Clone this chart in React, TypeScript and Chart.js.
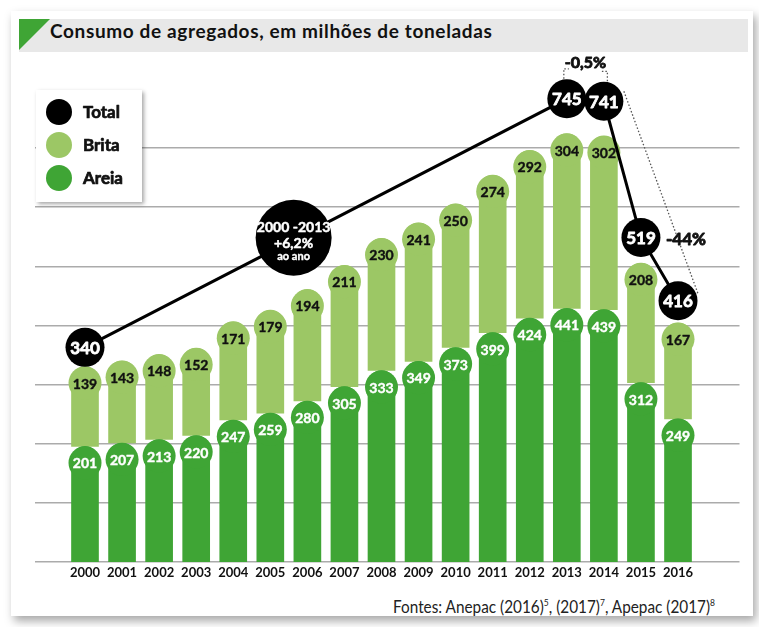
import React, { useEffect, useRef } from 'react';
import { Chart, registerables } from 'chart.js';

Chart.register(...registerables);

// ---------- data ----------
const years = [2000, 2001, 2002, 2003, 2004, 2005, 2006, 2007, 2008, 2009, 2010, 2011, 2012, 2013, 2014, 2015, 2016];
const areia = [201, 207, 213, 220, 247, 259, 280, 305, 333, 349, 373, 399, 424, 441, 439, 312, 249];
const brita = [139, 143, 148, 152, 171, 179, 194, 211, 230, 241, 250, 274, 292, 304, 302, 208, 167];
const totalYears = [2000, 2013, 2014, 2015, 2016];
const totalValues = [340, 745, 741, 519, 416];
const gridValues = [0, 100, 200, 300, 400, 500, 600, 700];
const seriesNames = ['Total', 'Brita', 'Areia'];
const titleText = 'Consumo de agregados, em milhões de toneladas';
const cagrLines = ['2000 -2013', '+6,2%', 'ao ano'];
const change1314 = '-0,5%';
const change1416 = '-44%';

// ---------- style ----------
const FONT = 'Lato, "Noto Sans", sans-serif';
const DARK = '#3fa535';
const LIGHT = '#9cc765';
const BLACK = '#000000';

const drawCircle = (ctx: CanvasRenderingContext2D, x: number, y: number, r: number, color: string) => {
  ctx.beginPath();
  ctx.arc(x, y, r, 0, Math.PI * 2);
  ctx.fillStyle = color;
  ctx.fill();
};

const drawText = (
  ctx: CanvasRenderingContext2D,
  t: string,
  x: number,
  y: number,
  size: number,
  color: string,
  align: CanvasTextAlign = 'center',
  heavy: number = 0.5
) => {
  ctx.font = `bold ${size}px ${FONT}`;
  ctx.fillStyle = color;
  ctx.textAlign = align;
  ctx.textBaseline = 'middle';
  ctx.fillText(t, x, y);
  if (heavy > 0) {
    ctx.strokeStyle = color;
    ctx.lineWidth = heavy;
    ctx.lineJoin = 'round';
    ctx.strokeText(t, x, y);
  }
};

const annotPlugin = {
  id: 'annot',
  beforeDatasetDraw(chart: any, args: any) {
    if (args.index !== 2) return;
    const ctx = chart.ctx as CanvasRenderingContext2D;
    ctx.save();
    [0, 1].forEach((di) => {
      const meta = chart.getDatasetMeta(di);
      const ds = chart.data.datasets[di];
      meta.data.forEach((el: any, j: number) => {
        const cx = el.x;
        const cy = el.y + 16.5;
        drawCircle(ctx, cx, cy, 16.5, ds.backgroundColor);
        drawText(ctx, String(ds.data[j].y), cx, cy + 1, 14, di === 0 ? '#ffffff' : '#111111', 'center', 0.4);
      });
    });
    ctx.restore();
  },
  afterDatasetDraw(chart: any, args: any) {
    if (args.index !== 2) return;
    const ctx = chart.ctx as CanvasRenderingContext2D;
    ctx.save();
    args.meta.data.forEach((el: any, j: number) => {
      drawText(ctx, String(totalValues[j]), el.x, el.y + 1, 17, '#ffffff', 'center', 0.8);
    });
    ctx.restore();
  },
  afterDatasetsDraw(chart: any) {
    const ctx = chart.ctx as CanvasRenderingContext2D;
    const pts = chart.getDatasetMeta(2).data;
    const p0 = pts[0], p1 = pts[1], p2 = pts[2], p3 = pts[3], p4 = pts[4];
    ctx.save();

    // big CAGR circle on the 2000-2013 line
    const t = 0.433;
    const bx = p0.x + t * (p1.x - p0.x);
    const by = p0.y + t * (p1.y - p0.y) - 2;
    drawCircle(ctx, bx, by, 38, BLACK);
    drawText(ctx, cagrLines[0], bx, by - 10, 14, '#ffffff', 'center', 0.5);
    drawText(ctx, cagrLines[1], bx, by + 6, 14, '#ffffff', 'center', 0.5);
    drawText(ctx, cagrLines[2], bx, by + 19, 11, '#ffffff', 'center', 0.4);

    // dotted brackets
    ctx.strokeStyle = '#555555';
    ctx.lineWidth = 1.3;
    ctx.setLineDash([1.5, 2]);
    ctx.beginPath();
    ctx.moveTo(p1.x - 3, p1.y - 20);
    ctx.lineTo(p1.x - 3, p1.y - 30);
    ctx.lineTo(p1.x + 2, p1.y - 30);
    ctx.moveTo(p2.x + 3.5, p2.y - 20);
    ctx.lineTo(p2.x + 3.5, p2.y - 30);
    ctx.lineTo(p2.x - 2, p2.y - 30);
    ctx.moveTo(p2.x + 20, p2.y - 10);
    ctx.lineTo(p4.x + 20, p4.y - 7);
    ctx.stroke();
    ctx.setLineDash([]);

    drawText(ctx, change1314, (p1.x + p2.x) / 2, p1.y - 36, 16, '#111111', 'center', 0.9);
    drawText(ctx, change1416, p3.x + 45, p3.y + 2, 17, '#111111', 'center', 0.9);

    // legend box
    ctx.save();
    ctx.shadowColor = 'rgba(0,0,0,0.35)';
    ctx.shadowBlur = 4;
    ctx.shadowOffsetX = 2;
    ctx.shadowOffsetY = 2;
    ctx.fillStyle = '#ffffff';
    ctx.fillRect(36, 90, 106, 112);
    ctx.restore();
    const lcolors = [BLACK, LIGHT, DARK];
    seriesNames.forEach((n, i) => {
      const y = 112 + i * 33;
      drawCircle(ctx, 59, y, 13, lcolors[i]);
      drawText(ctx, n, 83, y + 1, 17, '#111111', 'left', 0.7);
    });
    ctx.restore();
  },
};

export default function App() {
  const canvasRef = useRef<HTMLCanvasElement | null>(null);
  const titleRef = useRef<HTMLDivElement | null>(null);
  const footRef = useRef<HTMLDivElement | null>(null);

  useEffect(() => {
    if (titleRef.current) {
      const el = titleRef.current;
      const w = el.scrollWidth;
      el.style.letterSpacing = `${(442 - w) / (titleText.length - 1)}px`;
    }
    if (footRef.current) {
      const el = footRef.current;
      const w = el.scrollWidth;
      el.style.transform = `scaleX(${322 / w})`;
    }
    const canvas = canvasRef.current;
    if (!canvas) return;
    const chart = new Chart(canvas, {
      type: 'bar',
      data: {
        datasets: [
          {
            type: 'bar',
            label: seriesNames[2],
            data: years.map((y, i) => ({ x: y, y: areia[i] })),
            backgroundColor: DARK,
            barThickness: 27,
            borderRadius: { topLeft: 13.5, topRight: 13.5, bottomLeft: 0, bottomRight: 0 },
            borderSkipped: false,
            yAxisID: 'y',
            order: 1,
          },
          {
            type: 'bar',
            label: seriesNames[1],
            data: years.map((y, i) => ({ x: y, y: brita[i] })),
            backgroundColor: LIGHT,
            barThickness: 27,
            borderRadius: { topLeft: 13.5, topRight: 13.5, bottomLeft: 0, bottomRight: 0 },
            borderSkipped: false,
            yAxisID: 'y',
            order: 1,
          },
          {
            type: 'line',
            label: seriesNames[0],
            data: totalYears.map((y, i) => ({ x: y, y: totalValues[i] })),
            borderColor: BLACK,
            borderWidth: 3,
            pointRadius: 19.5,
            pointBackgroundColor: BLACK,
            pointBorderWidth: 0,
            tension: 0,
            clip: false,
            yAxisID: 'y2',
            order: 0,
          } as any,
        ],
      },
      options: {
        responsive: false,
        animation: false,
        events: [],
        layout: { padding: { left: 35, right: 11, top: 60, bottom: 35 } },
        plugins: { legend: { display: false }, tooltip: { enabled: false } },
        scales: {
          x: {
            type: 'linear',
            stacked: true,
            min: 1999.21,
            max: 2017.1,
            grid: { display: false, drawTicks: false },
            border: { display: false },
            afterBuildTicks: (s: any) => {
              s.ticks = years.map((v) => ({ value: v }));
            },
            afterFit: (s: any) => {
              s.height = 30;
            },
            ticks: {
              autoSkip: false,
              maxRotation: 0,
              padding: 3,
              color: '#111111',
              font: { family: FONT, size: 13, weight: 'bold' },
              callback: (v: any) => String(v),
            },
          },
          y: { display: false, stacked: true, min: 0, max: 873 },
          y2: { display: false, min: -9.78, max: 808.3 },
          yg: {
            position: 'left',
            min: 0,
            max: 848.8,
            afterBuildTicks: (s: any) => {
              s.ticks = gridValues.map((v) => ({ value: v }));
            },
            ticks: { display: false },
            grid: { color: '#ababab', lineWidth: 1.5, drawTicks: false },
            border: { display: false },
            afterFit: (s: any) => {
              s.width = 0;
            },
          },
        } as any,
      },
      plugins: [annotPlugin as any],
    });
    return () => chart.destroy();
  }, []);

  return (
    <div style={{ position: 'absolute', left: 0, top: 0, width: 759, height: 627, background: '#ffffff', overflow: 'hidden' }}>
      <div
        style={{
          position: 'absolute',
          left: 11,
          top: 11,
          width: 742,
          height: 605,
          background: '#ffffff',
          boxShadow: '3px 5px 9px rgba(0,0,0,0.35)',
        }}
      />
      <div style={{ position: 'absolute', left: 19, top: 19, width: 729, height: 33, background: '#e8e8e8' }} />
      <div
        style={{
          position: 'absolute',
          left: 19,
          top: 19,
          width: 31,
          height: 31,
          background: DARK,
          clipPath: 'polygon(0 0, 100% 0, 0 100%)',
        }}
      />
      <div
        ref={titleRef}
        style={{
          position: 'absolute',
          left: 50,
          top: 19,
          height: 33,
          lineHeight: '33px',
          font: `bold 19px ${FONT}`,
          color: '#111111',
          whiteSpace: 'nowrap',
        }}
      >
        {titleText}
      </div>
      <div
        ref={footRef}
        style={{
          position: 'absolute',
          left: 393,
          top: 595,
          lineHeight: '18px',
          font: `18px ${FONT}`,
          color: '#222222',
          whiteSpace: 'nowrap',
          transformOrigin: 'left top',
        }}
      >
        Fontes: Anepac (2016)
        <span style={{ fontSize: 10, position: 'relative', top: -7 }}>5</span>, (2017)
        <span style={{ fontSize: 10, position: 'relative', top: -7 }}>7</span>, Apepac (2017)
        <span style={{ fontSize: 10, position: 'relative', top: -7 }}>8</span>
      </div>
      <canvas ref={canvasRef} width={759} height={627} style={{ position: 'absolute', left: 0, top: 0 }} />
    </div>
  );
}
